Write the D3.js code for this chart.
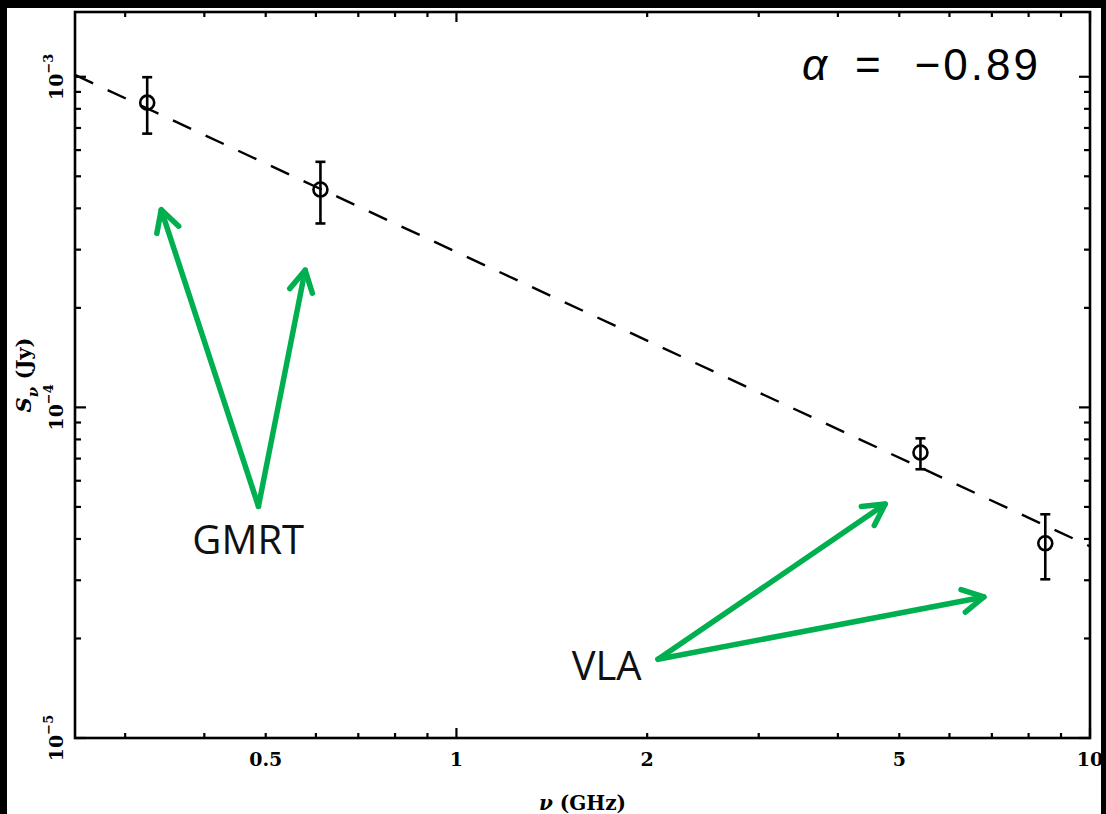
<!DOCTYPE html>
<html><head><meta charset="utf-8">
<script src="https://cdn.jsdelivr.net/npm/d3@7"></script>
<style>html,body{margin:0;padding:0;background:#000;} svg{display:block;}</style>
</head><body><svg id="chart" width="1106" height="814"></svg>
<script>
// Radio spectrum: flux density vs frequency, with power-law fit
const freqGHz = [0.325, 0.61, 5.4, 8.5];
const fluxJy  = [8.35e-4, 4.56e-4, 7.3e-5, 3.88e-5];
const fluxLo  = [6.73e-4, 3.6e-4, 6.5e-5, 3.02e-5];
const fluxHi  = [9.97e-4, 5.53e-4, 8.06e-5, 4.75e-5];

const specIndex = -0.89;
const fluxAt1GHz = 2.95e-4;

const xMajorTicks = [1, 10];
const xMinorTicks = [0.3, 0.4, 0.5, 0.6, 0.7, 0.8, 0.9, 2, 3, 4, 5, 6, 7, 8, 9];
const xTickLabels = [0.5, 1, 2, 5, 10];
const yMajorTicks = [1e-5, 1e-4, 1e-3];
const yMinorTicks = [2e-5, 3e-5, 4e-5, 5e-5, 6e-5, 7e-5, 8e-5, 9e-5,
                     2e-4, 3e-4, 4e-4, 5e-4, 6e-4, 7e-4, 8e-4, 9e-4];
const yTickExps = [-5, -4, -3];

// Instrument annotations: label anchor and arrow targets, in (GHz, Jy)
const telescopes = ["GMRT", "VLA"];
const labelAt = [[0.383, 3.6e-5], [1.52, 1.5e-5]];
const arrowBase = [[0.487, 5.02e-5], [2.08, 1.73e-5]];
const arrowTips = [[[0.342, 3.96e-4], [0.577, 2.6e-4]], [[4.75, 5.1e-5], [6.8, 2.67e-5]]];

const svg = d3.select("#chart");
const W = 1106, H = 814;
const m = {left: 75, right: 1090, top: 12, bottom: 738};

svg.append("rect").attr("width", W).attr("height", H).attr("fill", "#000");
svg.append("rect").attr("x", 7).attr("y", 8).attr("width", 1094).attr("height", H - 8).attr("fill", "#fff");

const x = d3.scaleLog().domain([0.25, 10]).range([m.left, m.right]);
const y = d3.scaleLog().domain([1e-5, 1.57e-3]).range([m.bottom, m.top]);

const ax = svg.append("g").attr("stroke", "#000").attr("stroke-width", 2.2);
// ticks on all four sides, pointing inwards
function xt(vals, len) {
  vals.forEach(v => {
    ax.append("line").attr("x1", x(v)).attr("x2", x(v)).attr("y1", m.bottom).attr("y2", m.bottom - len);
    ax.append("line").attr("x1", x(v)).attr("x2", x(v)).attr("y1", m.top).attr("y2", m.top + len);
  });
}
function yt(vals, len) {
  vals.forEach(v => {
    ax.append("line").attr("y1", y(v)).attr("y2", y(v)).attr("x1", m.left).attr("x2", m.left + len);
    ax.append("line").attr("y1", y(v)).attr("y2", y(v)).attr("x1", m.right).attr("x2", m.right - len);
  });
}
xt(xMajorTicks, 10); xt(xMinorTicks, 5);
yt(yMajorTicks, 11); yt(yMinorTicks, 6);

svg.append("rect").attr("x", m.left).attr("y", m.top)
  .attr("width", m.right - m.left).attr("height", m.bottom - m.top)
  .attr("fill", "none").attr("stroke", "#000").attr("stroke-width", 2.6);

const serif = "'DejaVu Serif', 'Liberation Serif', serif";

svg.append("g").selectAll("text").data(xTickLabels).join("text")
  .attr("x", d => x(d)).attr("y", 766)
  .attr("text-anchor", "middle").attr("font-family", serif).attr("font-weight", "bold")
  .attr("font-size", 19).text(d => d);

const yl = svg.append("g").selectAll("text").data(yTickExps).join("text")
  .attr("transform", d => `translate(63,${y(Math.pow(10, d))}) rotate(-90)`)
  .attr("text-anchor", "middle").attr("font-family", serif).attr("font-weight", "bold")
  .attr("font-size", 19);
yl.append("tspan").text("10");
yl.append("tspan").attr("dy", -10).attr("font-size", 13).text(d => "\u2212" + Math.abs(d));

// axis titles
const xTitle = svg.append("text").attr("x", (m.left + m.right) / 2).attr("y", 810)
  .attr("text-anchor", "middle").attr("font-family", serif).attr("font-weight", "bold").attr("font-size", 20);
xTitle.append("tspan").attr("font-style", "italic").text("\u03bd");
xTitle.append("tspan").text(" (GHz)");

const yTitle = svg.append("text")
  .attr("transform", `translate(31,${(m.top + m.bottom) / 2}) rotate(-90)`)
  .attr("text-anchor", "middle").attr("font-family", serif).attr("font-weight", "bold").attr("font-size", 21);
yTitle.append("tspan").attr("font-style", "italic").text("S");
yTitle.append("tspan").attr("dy", 7).attr("font-size", 15).attr("font-style", "italic").text("\u03bd");
yTitle.append("tspan").attr("dy", -7).text(" (Jy)");

// power-law fit
const plot = svg.append("g");
const fitNu = x.domain();
plot.append("line")
  .attr("x1", x(fitNu[0])).attr("y1", y(fluxAt1GHz * Math.pow(fitNu[0], specIndex)))
  .attr("x2", x(fitNu[1])).attr("y2", y(fluxAt1GHz * Math.pow(fitNu[1], specIndex)))
  .attr("stroke", "#000").attr("stroke-width", 2.4).attr("stroke-dasharray", "20,16");

// error bars and points
const pts = freqGHz.map((f, i) => ({f, s: fluxJy[i], lo: fluxLo[i], hi: fluxHi[i]}));
const g = plot.selectAll("g.pt").data(pts).join("g").attr("stroke", "#000").attr("stroke-width", 2.6).attr("fill", "none");
g.append("line").attr("x1", d => x(d.f)).attr("x2", d => x(d.f)).attr("y1", d => y(d.lo)).attr("y2", d => y(d.hi));
g.append("line").attr("x1", d => x(d.f) - 5).attr("x2", d => x(d.f) + 5).attr("y1", d => y(d.lo)).attr("y2", d => y(d.lo));
g.append("line").attr("x1", d => x(d.f) - 5).attr("x2", d => x(d.f) + 5).attr("y1", d => y(d.hi)).attr("y2", d => y(d.hi));
g.append("circle").attr("cx", d => x(d.f)).attr("cy", d => y(d.s)).attr("r", 7);

// spectral index label
const sans = "'Liberation Sans', Arial, sans-serif";
const alpha = svg.append("g").attr("font-family", sans).attr("font-size", 44).attr("fill", "#000");
alpha.append("text").attr("x", 802).attr("y", 80).attr("font-style", "italic").text("\u03b1");
alpha.append("text").attr("x", 855).attr("y", 80).text("=");
alpha.append("text").attr("x", 1041).attr("y", 80).attr("text-anchor", "end")
  .attr("letter-spacing", 3).text("\u22120.89");

// green annotation arrows
const green = "#00b050";
const ann = svg.append("g").attr("stroke", green).attr("stroke-width", 5.5)
  .attr("stroke-linecap", "round").attr("stroke-linejoin", "round").attr("fill", "none");
telescopes.forEach((name, i) => {
  const bx = x(arrowBase[i][0]), by = y(arrowBase[i][1]);
  arrowTips[i].forEach(t => {
    const tx = x(t[0]), ty = y(t[1]);
    ann.append("line").attr("x1", bx).attr("y1", by).attr("x2", tx).attr("y2", ty);
    const ang = Math.atan2(by - ty, bx - tx), L = 24, h = 0.5;
    const p1 = [tx + L * Math.cos(ang - h), ty + L * Math.sin(ang - h)];
    const p2 = [tx + L * Math.cos(ang + h), ty + L * Math.sin(ang + h)];
    ann.append("path").attr("d", `M${p1}L${tx},${ty}L${p2}`);
  });
  svg.append("text").attr("x", x(labelAt[i][0])).attr("y", y(labelAt[i][1]))
    .attr("font-family", "'Open Sans', 'Noto Sans', sans-serif").attr("font-size", 40)
    .attr("fill", "#111").text(name);
});
</script></body></html>
